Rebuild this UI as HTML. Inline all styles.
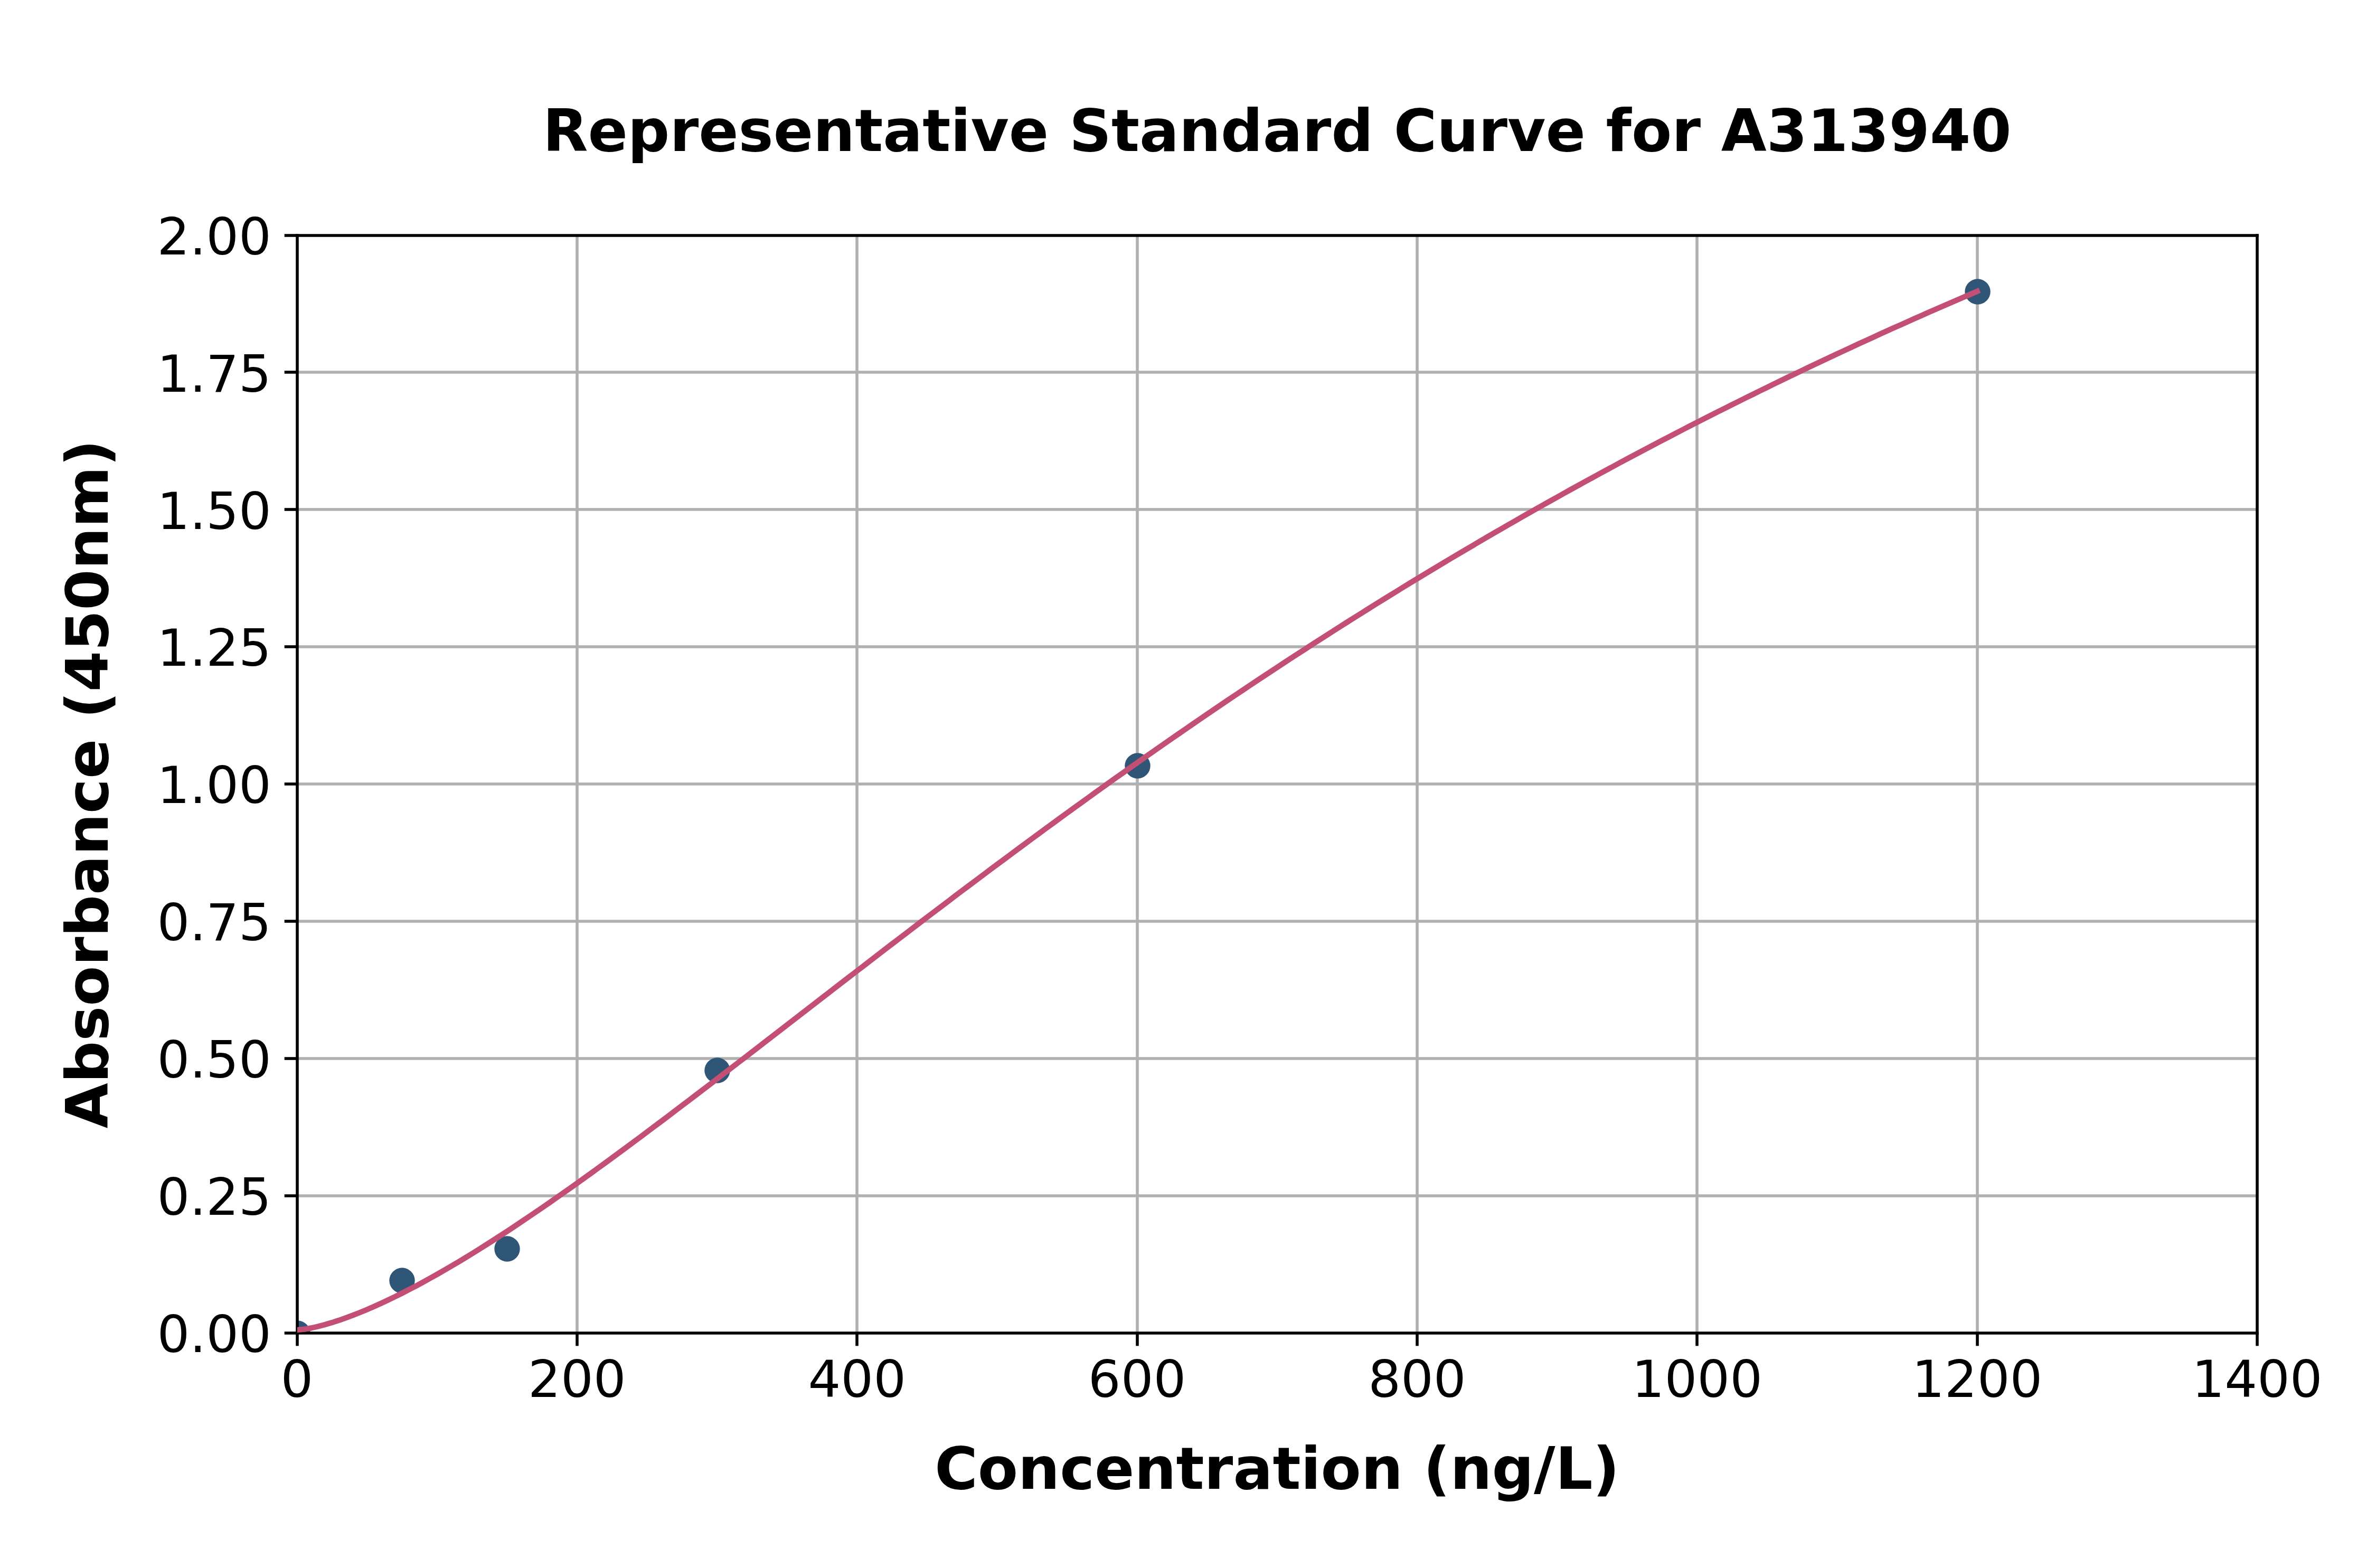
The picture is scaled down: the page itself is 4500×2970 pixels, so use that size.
<!DOCTYPE html>
<html lang="en">
<head>
<meta charset="utf-8">
<title>Representative Standard Curve for A313940</title>
<style>
html,body{margin:0;padding:0;background:#fff;}
body{width:4500px;height:2970px;overflow:hidden;}
svg{display:block;}
text{font-family:"DejaVu Sans", "Liberation Sans", sans-serif;fill:#000;}
.tk{font-size:97.22px;}
.lb{font-size:111.11px;font-weight:bold;}
</style>
</head>
<body>
<svg width="4500" height="2970" viewBox="0 0 4500 2970">
<defs><clipPath id="ax"><rect x="563" y="446" width="3712" height="2079"/></clipPath></defs>
<rect width="4500" height="2970" fill="#fff"/>
<g stroke="#b0b0b0" stroke-width="5.56" fill="none">
<line x1="1093" y1="445.5" x2="1093" y2="2524.5"/>
<line x1="1623" y1="445.5" x2="1623" y2="2524.5"/>
<line x1="2154" y1="445.5" x2="2154" y2="2524.5"/>
<line x1="2684" y1="445.5" x2="2684" y2="2524.5"/>
<line x1="3214" y1="445.5" x2="3214" y2="2524.5"/>
<line x1="3745" y1="445.5" x2="3745" y2="2524.5"/>
<line x1="562.5" y1="2265" x2="4275.0" y2="2265"/>
<line x1="562.5" y1="2005" x2="4275.0" y2="2005"/>
<line x1="562.5" y1="1745" x2="4275.0" y2="1745"/>
<line x1="562.5" y1="1485" x2="4275.0" y2="1485"/>
<line x1="562.5" y1="1225" x2="4275.0" y2="1225"/>
<line x1="562.5" y1="965" x2="4275.0" y2="965"/>
<line x1="562.5" y1="705" x2="4275.0" y2="705"/>
</g>
<g fill="#2f5577" clip-path="url(#ax)">
<circle cx="563.5" cy="2525.5" r="24.2"/>
<circle cx="761.5" cy="2425.5" r="24.2"/>
<circle cx="960.5" cy="2365.5" r="24.2"/>
<circle cx="1358.5" cy="2027.5" r="24.2"/>
<circle cx="2154.5" cy="1450.5" r="24.2"/>
<circle cx="3745.5" cy="552.5" r="24.2"/>
</g>
<g stroke="#000" stroke-width="5.56" fill="none">
<line x1="563" y1="2525" x2="563" y2="2549.3"/>
<line x1="1093" y1="2525" x2="1093" y2="2549.3"/>
<line x1="1623" y1="2525" x2="1623" y2="2549.3"/>
<line x1="2154" y1="2525" x2="2154" y2="2549.3"/>
<line x1="2684" y1="2525" x2="2684" y2="2549.3"/>
<line x1="3214" y1="2525" x2="3214" y2="2549.3"/>
<line x1="3745" y1="2525" x2="3745" y2="2549.3"/>
<line x1="4275" y1="2525" x2="4275" y2="2549.3"/>
<line x1="563" y1="2525" x2="538.7" y2="2525"/>
<line x1="563" y1="2265" x2="538.7" y2="2265"/>
<line x1="563" y1="2005" x2="538.7" y2="2005"/>
<line x1="563" y1="1745" x2="538.7" y2="1745"/>
<line x1="563" y1="1485" x2="538.7" y2="1485"/>
<line x1="563" y1="1225" x2="538.7" y2="1225"/>
<line x1="563" y1="965" x2="538.7" y2="965"/>
<line x1="563" y1="705" x2="538.7" y2="705"/>
<line x1="563" y1="446" x2="538.7" y2="446"/>
<line x1="563" y1="443.22" x2="563" y2="2527.78"/><line x1="4275" y1="443.22" x2="4275" y2="2527.78"/>
<line x1="560.22" y1="446" x2="4277.78" y2="446"/><line x1="560.22" y1="2525" x2="4277.78" y2="2525"/>
</g>
<polyline points="562.5,2519.1 575.8,2517.8 589.0,2515.5 602.3,2512.5 615.5,2509.0 628.8,2505.1 642.1,2500.8 655.3,2496.1 668.6,2491.2 681.8,2486.0 695.1,2480.5 708.3,2474.7 721.6,2468.7 734.9,2462.5 748.1,2456.1 761.4,2449.5 774.6,2442.7 787.9,2435.8 801.2,2428.6 814.4,2421.3 827.7,2413.9 840.9,2406.3 854.2,2398.5 867.5,2390.7 880.7,2382.7 894.0,2374.6 907.2,2366.3 920.5,2358.0 933.8,2349.5 947.0,2341.0 960.3,2332.3 973.5,2323.6 986.8,2314.7 1000.0,2305.8 1013.3,2296.8 1026.6,2287.7 1039.8,2278.6 1053.1,2269.3 1066.3,2260.0 1079.6,2250.7 1092.9,2241.3 1106.1,2231.8 1119.4,2222.2 1132.6,2212.6 1145.9,2203.0 1159.2,2193.3 1172.4,2183.5 1185.7,2173.8 1198.9,2163.9 1212.2,2154.1 1225.4,2144.2 1238.7,2134.2 1252.0,2124.3 1265.2,2114.3 1278.5,2104.2 1291.7,2094.2 1305.0,2084.1 1318.3,2074.0 1331.5,2063.9 1344.8,2053.8 1358.0,2043.6 1371.3,2033.4 1384.6,2023.2 1397.8,2013.0 1411.1,2002.8 1424.3,1992.6 1437.6,1982.4 1450.8,1972.1 1464.1,1961.9 1477.4,1951.6 1490.6,1941.4 1503.9,1931.1 1517.1,1920.9 1530.4,1910.6 1543.7,1900.4 1556.9,1890.1 1570.2,1879.9 1583.4,1869.7 1596.7,1859.4 1610.0,1849.2 1623.2,1839.0 1636.5,1828.8 1649.7,1818.6 1663.0,1808.4 1676.2,1798.2 1689.5,1788.0 1702.8,1777.9 1716.0,1767.8 1729.3,1757.6 1742.5,1747.5 1755.8,1737.4 1769.1,1727.4 1782.3,1717.3 1795.6,1707.3 1808.8,1697.2 1822.1,1687.2 1835.4,1677.3 1848.6,1667.3 1861.9,1657.4 1875.1,1647.4 1888.4,1637.5 1901.7,1627.7 1914.9,1617.8 1928.2,1608.0 1941.4,1598.2 1954.7,1588.4 1967.9,1578.7 1981.2,1568.9 1994.5,1559.2 2007.7,1549.5 2021.0,1539.9 2034.2,1530.3 2047.5,1520.7 2060.8,1511.1 2074.0,1501.6 2087.3,1492.1 2100.5,1482.6 2113.8,1473.1 2127.1,1463.7 2140.3,1454.3 2153.6,1444.9 2166.8,1435.6 2180.1,1426.3 2193.3,1417.0 2206.6,1407.8 2219.9,1398.5 2233.1,1389.4 2246.4,1380.2 2259.6,1371.1 2272.9,1362.0 2286.2,1352.9 2299.4,1343.9 2312.7,1334.9 2325.9,1325.9 2339.2,1317.0 2352.5,1308.1 2365.7,1299.2 2379.0,1290.4 2392.2,1281.6 2405.5,1272.8 2418.8,1264.1 2432.0,1255.4 2445.3,1246.7 2458.5,1238.1 2471.8,1229.5 2485.0,1220.9 2498.3,1212.3 2511.6,1203.8 2524.8,1195.4 2538.1,1186.9 2551.3,1178.5 2564.6,1170.1 2577.9,1161.8 2591.1,1153.5 2604.4,1145.2 2617.6,1137.0 2630.9,1128.8 2644.2,1120.6 2657.4,1112.4 2670.7,1104.3 2683.9,1096.3 2697.2,1088.2 2710.4,1080.2 2723.7,1072.2 2737.0,1064.3 2750.2,1056.4 2763.5,1048.5 2776.7,1040.7 2790.0,1032.9 2803.3,1025.1 2816.5,1017.3 2829.8,1009.6 2843.0,1001.9 2856.3,994.3 2869.6,986.7 2882.8,979.1 2896.1,971.5 2909.3,964.0 2922.6,956.5 2935.8,949.1 2949.1,941.7 2962.4,934.3 2975.6,926.9 2988.9,919.6 3002.1,912.3 3015.4,905.1 3028.7,897.8 3041.9,890.6 3055.2,883.5 3068.4,876.3 3081.7,869.2 3095.0,862.2 3108.2,855.1 3121.5,848.1 3134.7,841.1 3148.0,834.2 3161.2,827.3 3174.5,820.4 3187.8,813.5 3201.0,806.7 3214.3,799.9 3227.5,793.2 3240.8,786.4 3254.1,779.7 3267.3,773.1 3280.6,766.4 3293.8,759.8 3307.1,753.2 3320.4,746.7 3333.6,740.1 3346.9,733.7 3360.1,727.2 3373.4,720.8 3386.7,714.3 3399.9,708.0 3413.2,701.6 3426.4,695.3 3439.7,689.0 3452.9,682.7 3466.2,676.5 3479.5,670.3 3492.7,664.1 3506.0,658.0 3519.2,651.8 3532.5,645.7 3545.8,639.7 3559.0,633.6 3572.3,627.6 3585.5,621.6 3598.8,615.7 3612.1,609.8 3625.3,603.8 3638.6,598.0 3651.8,592.1 3665.1,586.3 3678.3,580.5 3691.6,574.7 3704.9,569.0 3718.1,563.3 3731.4,557.6 3744.6,551.9" fill="none" stroke="#c44f75" stroke-width="10.42" stroke-linecap="square" stroke-linejoin="round" clip-path="url(#ax)"/>
<text class="tk" transform="translate(562.50,2645.8) scale(1,0.987)" text-anchor="middle">0</text>
<text class="tk" transform="translate(1092.86,2645.8) scale(1,0.987)" text-anchor="middle">200</text>
<text class="tk" transform="translate(1623.21,2645.8) scale(1,0.987)" text-anchor="middle">400</text>
<text class="tk" transform="translate(2153.57,2645.8) scale(1,0.987)" text-anchor="middle">600</text>
<text class="tk" transform="translate(2683.93,2645.8) scale(1,0.987)" text-anchor="middle">800</text>
<text class="tk" transform="translate(3214.29,2645.8) scale(1,0.987)" text-anchor="middle">1000</text>
<text class="tk" transform="translate(3744.64,2645.8) scale(1,0.987)" text-anchor="middle">1200</text>
<text class="tk" transform="translate(4275.00,2645.8) scale(1,0.987)" text-anchor="middle">1400</text>
<text class="tk" transform="translate(513.9,2560.80) scale(1,0.987)" text-anchor="end">0.00</text>
<text class="tk" transform="translate(513.9,2300.93) scale(1,0.987)" text-anchor="end">0.25</text>
<text class="tk" transform="translate(513.9,2041.05) scale(1,0.987)" text-anchor="end">0.50</text>
<text class="tk" transform="translate(513.9,1781.17) scale(1,0.987)" text-anchor="end">0.75</text>
<text class="tk" transform="translate(513.9,1521.30) scale(1,0.987)" text-anchor="end">1.00</text>
<text class="tk" transform="translate(513.9,1261.42) scale(1,0.987)" text-anchor="end">1.25</text>
<text class="tk" transform="translate(513.9,1001.55) scale(1,0.987)" text-anchor="end">1.50</text>
<text class="tk" transform="translate(513.9,741.67) scale(1,0.987)" text-anchor="end">1.75</text>
<text class="tk" transform="translate(513.9,481.80) scale(1,0.987)" text-anchor="end">2.00</text>
<text class="lb" x="2418.75" y="286.4" text-anchor="middle">Representative Standard Curve for A313940</text>
<text class="lb" x="2418.75" y="2820" text-anchor="middle">Concentration (ng/L)</text>
<text class="lb" transform="translate(204,1485.0) rotate(-90)" text-anchor="middle">Absorbance (450nm)</text>
</svg>
</body>
</html>
